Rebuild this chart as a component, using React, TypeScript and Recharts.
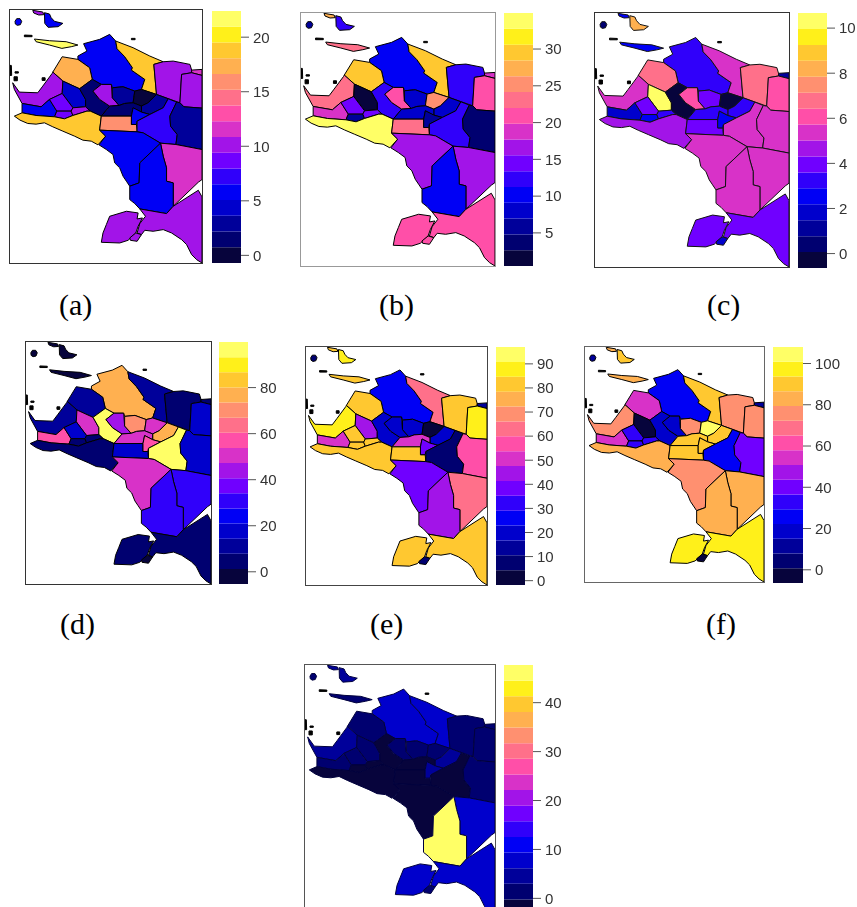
import React from "react";
import { ScatterChart, Scatter, XAxis, YAxis, BarChart, Bar } from "recharts";

type P = { x: number; y: number };
const pts = (a: number[][]): P[] => a.map(([x, y]) => ({ x, y }));

// region outlines in map units
const regionShapes: P[][] = [
  pts([[47,66],[52,58],[62,58],[67,66],[63,76],[54,78],[48,74]]),
  pts([[100,33],[130,38],[133,46],[118,47],[103,41]]),
  pts([[135,40],[150,44],[155,55],[165,66],[190,72],[176,82],[146,84],[136,72]]),
  pts([[105,119],[150,124],[200,127],[235,137],[215,142],[187,147],[150,137],[110,127]]),
  pts([[235,170],[262,155],[252,133],[300,120],[330,105],[348,125],[352,148],[375,172],[398,205],[395,212],[435,240],[425,270],[405,275],[370,262],[338,265],[335,255],[305,255],[278,240],[270,205],[235,180]]),
  pts([[348,125],[400,145],[450,170],[490,187],[462,195],[470,285],[425,270],[435,240],[395,212],[398,205],[375,172],[352,148]]),
  pts([[462,195],[490,187],[520,185],[570,195],[575,212],[575,220],[545,225],[540,310],[470,285]]),
  pts([[575,212],[606,210],[606,228],[575,220]]),
  pts([[545,225],[575,220],[606,228],[606,326],[552,322],[540,310]]),
  pts([[188,172],[235,180],[270,205],[278,240],[240,268],[190,245],[160,218]]),
  pts([[40,250],[60,278],[115,280],[130,260],[158,222],[160,218],[190,245],[188,282],[150,300],[125,322],[68,312],[45,270]]),
  pts([[190,245],[240,268],[258,300],[258,322],[220,325],[188,282]]),
  pts([[240,268],[278,240],[305,255],[280,275],[300,300],[330,320],[305,350],[272,335],[258,322],[258,300]]),
  pts([[305,255],[335,255],[338,295],[358,318],[330,320],[300,300],[280,275]]),
  pts([[338,265],[370,262],[405,275],[400,310],[375,312],[358,318],[338,295]]),
  pts([[405,275],[425,270],[470,285],[445,310],[425,320],[400,310]]),
  pts([[470,285],[505,298],[490,325],[450,345],[425,338],[425,320],[445,310]]),
  pts([[68,312],[125,322],[150,300],[172,335],[165,352],[110,348],[68,340]]),
  pts([[150,300],[188,282],[220,325],[215,335],[172,335]]),
  pts([[172,335],[215,335],[220,348],[195,358],[165,352]]),
  pts([[215,335],[220,325],[258,322],[272,335],[262,335],[220,348]]),
  pts([[45,350],[68,340],[110,348],[165,352],[195,358],[220,348],[262,335],[272,335],[305,350],[300,392],[318,410],[295,436],[275,425],[250,422],[225,410],[190,395],[160,382],[135,370],[110,374],[85,372],[62,362]]),
  pts([[305,350],[330,320],[358,318],[375,312],[400,310],[425,320],[425,338],[400,325],[395,350]]),
  pts([[305,350],[395,350],[395,375],[410,375],[412,397],[300,392]]),
  pts([[395,350],[400,325],[425,338],[450,345],[412,365],[410,375],[395,375]]),
  pts([[412,365],[450,345],[490,325],[505,298],[530,308],[510,350],[512,380],[532,405],[528,435],[482,431],[430,400],[412,397]]),
  pts([[530,308],[540,310],[552,322],[606,326],[606,450],[528,435],[532,405],[512,380],[510,350]]),
  pts([[300,392],[412,397],[430,400],[482,431],[420,490],[418,550],[390,560],[380,545],[370,530],[360,505],[345,490],[340,465],[320,450],[298,436],[318,410]]),
  pts([[482,431],[528,435],[606,450],[606,540],[595,548],[520,620],[520,550],[500,545],[500,505],[490,470]]),
  pts([[482,431],[490,470],[500,505],[500,545],[520,550],[520,620],[500,642],[420,628],[405,612],[390,600],[390,560],[418,550],[420,490]]),
  pts([[595,572],[606,592],[606,790],[590,780],[575,765],[560,735],[545,720],[515,700],[490,690],[460,695],[435,692],[425,705],[412,700],[420,672],[437,650],[420,628],[500,642],[520,620]]),
  pts([[330,650],[380,635],[415,640],[412,658],[428,655],[415,680],[408,700],[385,722],[360,730],[305,728],[310,700],[320,675]]),
  pts([[390,715],[408,700],[425,705],[412,725],[392,722]]),
];
const speckShapes: P[][] = [
  pts([[75,107],[98,108],[98,112],[75,112]]),
  pts([[395,117],[406,117],[406,121],[395,121]]),
  pts([[32,198],[36,198],[37,228],[32,228]]),
  pts([[44,232],[54,232],[54,244],[44,244]]),
  pts([[47,217],[57,217],[57,221],[47,221]]),
  pts([[128,235],[137,235],[137,243],[128,243]]),
];

const palette = ["#07043c","#000070","#00009a","#0000cc","#0000f5","#3000fa","#7000ff","#a214e8","#d832c8","#ff4fa8","#ff708a","#ff9070","#ffb050","#ffc830","#fff01a","#ffff66"];

const valuesA = [5.8,10.1,5.8,21.6,5.8,18.7,10.1,11.5,10.1,17.3,10.1,4.3,1.5,10.1,2.9,0,2.9,5.8,8.7,8.7,10.1,18.7,1.5,15.9,5.8,7.2,2.9,5.8,11.5,5.8,10.1,10.1,10.1];
const valuesB = [5.9,27.4,12.3,23.1,10.2,29.5,12.3,18.8,20.9,29.5,23.1,1.6,12.3,20.9,8,25.2,8,18.8,14.5,5.9,14.5,33.8,8,23.1,5.9,12.3,3.7,16.6,16.6,10.2,20.9,20.9,20.9];
const valuesC = [0.4,2.5,8.2,2.5,3.2,5.4,6.8,1.1,6.1,6.8,5.4,10.3,-0.3,6.1,3.9,-0.3,3.2,1.8,3.9,2.5,3.2,4.7,3.2,3.9,2.5,5.4,5.4,5.4,5.4,5.4,3.9,3.9,1.8];
const valuesD = [-2,-2,-2,-2,76.9,11.1,4.6,4.6,17.7,11.1,11.1,50.6,96.6,44,70.3,50.6,76.9,57.1,17.7,4.6,4.6,4.6,50.6,17.7,57.1,96.6,17.7,50.6,30.8,30.8,4.6,4.6,-2];
const valuesE = [7.5,81.6,87.8,81.6,26,63.1,81.6,13.6,87.8,81.6,87.8,44.5,19.8,19.8,19.8,1.3,19.8,50.7,81.6,81.6,81.6,81.6,50.7,81.6,38.4,7.5,56.9,38.4,63.1,44.5,81.6,81.6,7.5];
const valuesF = [11.5,83,90.1,83,25.8,90.1,75.8,11.5,75.8,54.4,75.8,-2.8,18.6,18.6,75.8,104.4,90.1,54.4,32.9,32.9,32.9,83,90.1,90.1,90.1,25.8,40.1,75.8,83,83,97.3,97.3,-2.8];
const valuesG = [1.4,4.6,4.6,1.4,7.8,7.8,1.4,1.4,1.4,1.4,4.6,1.4,-1.8,1.4,1.4,1.4,4.6,1.4,1.4,-1.8,-1.8,-1.8,-1.8,-1.8,4.6,-1.8,1.4,-1.8,7.8,46,7.8,7.8,1.4];

const ticksA = [0,5,10,15,20];
const ticksB = [5,10,15,20,25,30];
const ticksC = [0,2,4,6,8,10];
const ticksD = [0,20,40,60,80];
const ticksE = [0,10,20,30,40,50,60,70,80,90];
const ticksF = [0,20,40,60,80,100];
const ticksG = [0,10,20,30,40];

const captions = ["(a)","(b)","(c)","(d)","(e)","(f)"];

const panels = [
  { values: valuesA, ticks: ticksA, min: -0.7, max: 22.4, x: 10, y: 10, w: 192, h: 253, bx: 212, bw: 29, by: 11, bh: 252, frame: "#333", stroke: "#000", blur: 0.3 },
  { values: valuesB, ticks: ticksB, min: 0.5, max: 34.9, x: 301, y: 13, w: 194, h: 253, bx: 504, bw: 29, by: 13, bh: 253, frame: "#999", stroke: "#000", blur: 0.6 },
  { values: valuesC, ticks: ticksC, min: -0.64, max: 10.67, x: 595, y: 13, w: 194, h: 254, bx: 798, bw: 29, by: 13, bh: 255, frame: "#333", stroke: "#111", blur: 0.6 },
  { values: valuesD, ticks: ticksD, min: -5.3, max: 99.8, x: 26, y: 342, w: 185, h: 242, bx: 219, bw: 29, by: 342, bh: 242, frame: "#333", stroke: "#000", blur: 0.6 },
  { values: valuesE, ticks: ticksE, min: -1.8, max: 97, x: 306, y: 347, w: 181, h: 238, bx: 496, bw: 29, by: 347, bh: 238, frame: "#444", stroke: "#000", blur: 0.6 },
  { values: valuesF, ticks: ticksF, min: -6.4, max: 108, x: 585, y: 347, w: 179, h: 235, bx: 773, bw: 30, by: 347, bh: 236, frame: "#666", stroke: "#000", blur: 0.6 },
  { values: valuesG, ticks: ticksG, min: -3.4, max: 47.7, x: 305, y: 665, w: 190, h: 250, bx: 504, bw: 29, by: 665, bh: 250, frame: "#555", stroke: "#00003c", blur: 0.6 },
];

const bandKeys = palette.map((_, i) => `band${i}`);

function polygonLine(fill: string, stroke: string) {
  return (props: any) => (
    <polygon
      points={(props.points as { x: number; y: number }[]).map((p) => `${p.x},${p.y}`).join(" ")}
      fill={fill}
      stroke={stroke}
      strokeWidth={1}
      strokeLinejoin="round"
    />
  );
}
const noPoint = () => <g />;
const PAD = 10;

function MapPanel({ p }: { p: (typeof panels)[number] }) {
  const step = (p.max - p.min) / palette.length;
  const colourOf = (v: number) =>
    palette[Math.max(0, Math.min(palette.length - 1, Math.floor((v - p.min) / step)))];
  const row: Record<string, number | string> = { name: "scale", base: p.min };
  bandKeys.forEach((k) => (row[k] = step));
  return (
    <div style={{ filter: `blur(${p.blur}px)` }}>
      <div style={{ position: "absolute", left: p.x, top: p.y, width: p.w, height: p.h }}>
        <ScatterChart width={p.w} height={p.h} margin={{ top: 0, right: 0, bottom: 0, left: 0 }}>
          <XAxis type="number" dataKey="x" domain={[32, 606]} hide allowDataOverflow />
          <YAxis type="number" dataKey="y" domain={[32, 790]} reversed hide allowDataOverflow />
          {regionShapes.map((s, i) => (
            <Scatter key={i} data={s} isAnimationActive={false} shape={noPoint} line={polygonLine(colourOf(p.values[i]), p.stroke)} />
          ))}
          {speckShapes.map((s, i) => (
            <Scatter key={`s${i}`} data={s} isAnimationActive={false} shape={noPoint} line={polygonLine("#000", "#000")} />
          ))}
        </ScatterChart>
        <div style={{ position: "absolute", left: -1, top: -1, width: p.w, height: p.h, border: `1.5px solid ${p.frame}`, pointerEvents: "none" }} />
      </div>
      <div style={{ position: "absolute", left: p.bx, top: p.by - PAD }}>
        <BarChart width={p.bw + 44} height={p.bh + 2 * PAD} data={[row]} barCategoryGap={0} margin={{ top: PAD, right: 0, bottom: PAD, left: 0 }}>
          <XAxis dataKey="name" hide />
          <YAxis
            orientation="right"
            type="number"
            width={44}
            domain={[p.min, p.max]}
            ticks={p.ticks}
            allowDataOverflow
            interval={0}
            axisLine={false}
            tickSize={8}
            tickMargin={4}
            tickLine={{ stroke: "#555" }}
            tick={{ fill: "#333", fontSize: 15, fontFamily: "Liberation Sans", textAnchor: "start" }}
          />
          <Bar dataKey="base" stackId="s" fill="none" isAnimationActive={false} />
          {bandKeys.map((k, i) => (
            <Bar key={k} dataKey={k} stackId="s" fill={palette[i]} isAnimationActive={false} />
          ))}
        </BarChart>
      </div>
    </div>
  );
}

const captionPos = [
  { left: 59, top: 289 },
  { left: 379, top: 289 },
  { left: 707, top: 289 },
  { left: 60, top: 608 },
  { left: 370, top: 608 },
  { left: 706, top: 608 },
];

export default function App() {
  return (
    <div style={{ position: "fixed", left: 0, top: 0, width: 857, height: 907, overflow: "hidden", background: "#fff" }}>
      {panels.map((p, i) => (
        <MapPanel key={i} p={p} />
      ))}
      {captions.map((c, i) => (
        <div key={c} style={{ position: "absolute", ...captionPos[i], fontFamily: "Liberation Serif", fontSize: 30, lineHeight: "32px", color: "#000" }}>
          {c}
        </div>
      ))}
    </div>
  );
}
